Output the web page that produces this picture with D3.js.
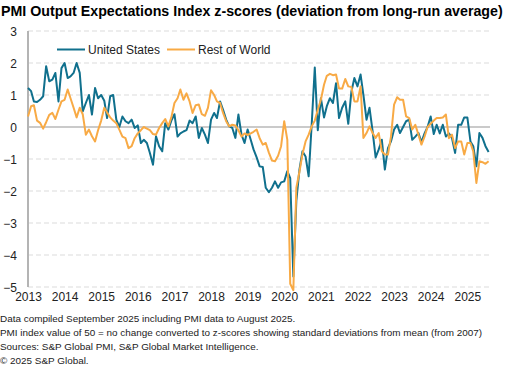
<!DOCTYPE html>
<html><head><meta charset="utf-8">
<script src="https://cdn.jsdelivr.net/npm/d3@7"></script>
<style>body{margin:0;background:#fff}svg{display:block}</style>
</head><body>
<svg id="c" width="508" height="366"></svg>
<script>
const titleText = "PMI Output Expectations Index z-scores (deviation from long-run average)";
const seriesNames = ["United States", "Rest of World"];
const yearLabels = ["2013","2014","2015","2016","2017","2018","2019","2020","2021","2022","2023","2024","2025"];
const yTicks = [3,2,1,0,-1,-2,-3,-4,-5];
const startMonth = "2013-01";
const usValues = [
  1.22,1.12,0.8,0.78,0.85,0.96,1.9,1.43,1.48,1.69,0.8,1.84,
  2.0,1.53,1.58,1.69,2.0,1.69,0.49,0.75,1.0,0.39,1.22,0.9,
  1.0,0.82,0.28,0.96,1.0,0.23,0.0,0.33,0.18,0.12,0.23,-0.03,
  0.05,-0.5,-0.4,-0.5,-0.81,-1.18,-0.29,-0.6,-0.76,0.12,-0.08,0.2,
  0.4,-0.3,-0.2,-0.14,-0.1,0.2,0.12,0.33,-0.34,-0.03,-0.24,-0.5,
  0.23,0.44,0.28,0.8,0.54,0.23,0.02,-0.03,-0.34,0.39,-0.24,-0.5,
  -0.08,-0.4,-0.7,-0.95,-1.23,-1.25,-1.9,-2.04,-1.9,-1.7,-1.9,-1.73,
  -1.7,-1.38,-1.6,-4.67,-2.3,-1.33,-0.76,-0.92,-1.54,0.07,1.86,-0.1,
  0.9,0.3,0.65,0.9,0.75,1.37,0.28,0.6,0.8,0.1,1.1,1.53,
  1.27,1.64,1.0,0.23,0.6,-0.14,-0.95,-0.7,-0.4,-1.33,-0.66,-0.45,
  -0.08,0.07,-0.19,0.0,0.18,0.23,-0.4,-0.3,-0.19,-0.47,-0.2,0.0,
  0.33,-0.22,0.07,-0.2,0.07,-0.3,-0.2,-0.35,-0.81,0.07,0.07,0.3,
  0.3,-0.45,-0.6,-1.23,-0.19,-0.34,-0.6,-0.78
];
const rowValues = [
  0.33,0.65,0.68,0.2,0.13,-0.05,0.15,0.38,0.44,0.25,0.54,0.8,
  0.85,1.17,0.9,0.6,0.3,0.6,0.4,-0.24,-0.08,-0.29,-0.45,-0.1,
  0.2,0.6,0.45,0.3,0.2,0.12,-0.08,-0.3,-0.35,-0.66,-0.6,-0.35,
  -0.2,-0.1,0.0,-0.05,-0.1,-0.22,-0.24,-0.03,0.12,0.25,0.02,0.3,
  0.75,0.9,1.17,0.85,1.05,0.8,0.44,0.68,0.7,0.4,0.35,0.6,
  1.15,1.0,0.8,0.75,0.44,0.18,0.02,0.07,0.05,-0.1,-0.3,-0.2,
  -0.25,-0.2,-0.15,-0.08,-0.35,-0.55,-0.5,-0.8,-1.05,-1.07,-0.9,-0.6,
  0.18,-0.4,-4.9,-5.1,-1.9,-1.4,-0.85,-0.45,-0.24,0.02,0.2,0.54,
  0.85,1.32,1.6,1.66,1.62,1.64,1.2,1.2,1.5,1.27,1.25,0.8,
  0.8,1.27,-0.34,-0.19,0.02,-0.19,-0.34,-0.19,-0.76,-0.86,-0.86,-0.3,
  0.7,0.93,0.85,0.85,0.33,0.28,-0.08,0.07,-0.24,-0.55,-0.3,0.0,
  0.1,0.2,0.28,0.28,0.3,0.39,-0.35,-0.24,-0.66,-0.45,-0.45,-0.86,
  -0.5,-0.5,-0.76,-1.75,-1.07,-1.1,-1.15,-1.07
];
const footnotes = [
  "Data compiled September 2025 including PMI data to August 2025.",
  "PMI index value of 50 = no change converted to z-scores showing standard deviations from mean (from 2007)",
  "Sources: S&P Global PMI, S&P Global Market Intelligence.",
  "\u00A9 2025 S&P Global."
];

const FONT = "'Liberation Sans', Arial, Helvetica, sans-serif";
const US_COLOR = "#10708d", ROW_COLOR = "#f8aa45";
const svg = d3.select("#c").style("font-family", FONT);

const parse = d3.timeParse("%Y-%m");
const t0 = parse(startMonth);
const dates = usValues.map((_, i) => d3.timeMonth.offset(t0, i));
const x = d3.scaleTime().domain([t0, dates[dates.length-1]]).range([28, 488.6]);
const y = d3.scaleLinear().domain([-5, 3]).range([287, 31]);
const gridRight = 490;

// gridlines
const g = svg.append("g");
g.selectAll("line.grid").data(yTicks.filter(v => v !== 0)).join("line")
  .attr("x1", 28).attr("x2", gridRight)
  .attr("y1", d => y(d)).attr("y2", d => y(d))
  .attr("stroke", "#dcdcdc").attr("stroke-width", 1.2).attr("stroke-dasharray", "5,3");
g.append("line").attr("x1", 28).attr("x2", gridRight).attr("y1", y(0)).attr("y2", y(0))
  .attr("stroke", "#b8b8b8").attr("stroke-width", 1.3);
g.append("line").attr("x1", 28).attr("x2", 28).attr("y1", y(3)).attr("y2", y(-5))
  .attr("stroke", "#b4b4b4").attr("stroke-width", 2);

// y labels
const yAxis = d3.axisLeft(y).tickValues(yTicks).tickSize(0).tickPadding(0).tickFormat(d3.format("d"));
const ya = svg.append("g").attr("transform", "translate(17,0)").call(yAxis);
ya.select(".domain").remove();
ya.selectAll("text").attr("font-size", 12).attr("fill", "#222").attr("font-family", FONT).attr("dy", "0.36em");

// x labels
const yearDates = yearLabels.map(s => d3.timeParse("%Y")(s));
const xAxis = d3.axisBottom(x).tickValues(yearDates).tickSize(0).tickPadding(0).tickFormat(d3.timeFormat("%Y"));
const xa = svg.append("g").attr("transform", "translate(0,292)").call(xAxis);
xa.select(".domain").remove();
xa.selectAll("text").attr("font-size", 12).attr("fill", "#222").attr("font-family", FONT).attr("dy", "0.75em");

// lines
const line = d3.line().x((d, i) => x(dates[i])).y(d => y(d)).curve(d3.curveLinear);
svg.append("path").datum(usValues).attr("d", line).attr("fill", "none")
  .attr("stroke", US_COLOR).attr("stroke-width", 2).attr("stroke-linejoin", "round");
svg.append("path").datum(rowValues).attr("d", line).attr("fill", "none")
  .attr("stroke", ROW_COLOR).attr("stroke-width", 2).attr("stroke-linejoin", "round");

// legend
const legend = [
  {name: seriesNames[0], color: US_COLOR, x: 57},
  {name: seriesNames[1], color: ROW_COLOR, x: 167}
];
const lg = svg.append("g");
legend.forEach(l => {
  lg.append("line").attr("x1", l.x).attr("x2", l.x + 28).attr("y1", 49.5).attr("y2", 49.5)
    .attr("stroke", l.color).attr("stroke-width", 2);
  lg.append("text").attr("x", l.x + 31).attr("y", 53.8).attr("font-size", 12).attr("fill", "#222").text(l.name);
});

// title
const title = svg.append("text").attr("x", 1).attr("y", 16).attr("font-size", 15)
  .attr("font-weight", "bold").attr("fill", "#000").text(titleText);
{
  const w = title.node().getComputedTextLength();
  title.attr("font-size", 15 * 502 / w);
}

// footnotes
const fn = svg.append("g");
const fsel = fn.selectAll("text").data(footnotes).join("text")
  .attr("x", 0).attr("y", (d, i) => 321.5 + i * 14).attr("font-size", 10).attr("fill", "#222").text(d => d);
{
  const w = fsel.filter((d, i) => i === 1).node().getComputedTextLength();
  fsel.attr("font-size", 10 * 483 / w);
}
</script>
</body></html>
